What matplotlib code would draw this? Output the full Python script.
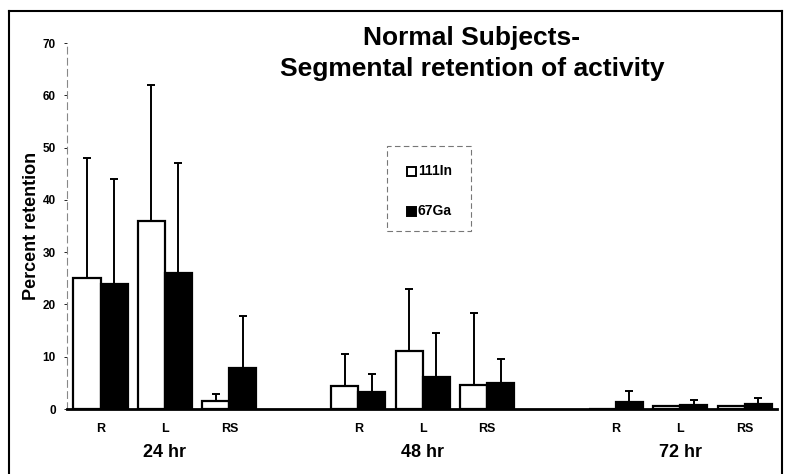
import matplotlib
matplotlib.use("Agg")
import matplotlib.pyplot as plt
from matplotlib.patches import Rectangle
from matplotlib.lines import Line2D
import numpy as np

plt.rcParams['font.family'] = ['Liberation Sans', 'DejaVu Sans']
plt.rcParams['font.weight'] = 'bold'

groups = ["24 hr", "48 hr", "72 hr"]
segments = ["R", "L", "RS"]
in111 = [25, 36, 1.6, 4.4, 11, 4.5, 0, 0.5, 0.5]
in111_err = [23, 26, 1.3, 6.2, 12, 13.9, 0, 0, 0]
ga67 = [24, 26, 7.9, 3.3, 6.2, 4.9, 1.4, 0.7, 0.9]
ga67_err = [20, 21, 9.8, 3.4, 8.4, 4.7, 2.1, 1.0, 1.2]

pos = []
for g in range(len(groups)):
    for s in range(len(segments)):
        pos.append(g * 4 + s)
pos = np.array(pos, dtype=float)

fig = plt.figure(figsize=(7.85, 4.74), dpi=100)
ax = fig.add_axes([67/785, 1-409/474, (777-67)/785, (409-43)/474])

w = 0.42
ax.bar(pos - w/2, in111, width=w, color='white', edgecolor='black', linewidth=1.6,
       yerr=[np.zeros(len(in111)), in111_err], error_kw=dict(ecolor='black', elinewidth=1.4, capsize=3, capthick=1.4))
ax.bar(pos + w/2, ga67, width=w, color='black', edgecolor='black', linewidth=1.6,
       yerr=[np.zeros(len(ga67)), ga67_err], error_kw=dict(ecolor='black', elinewidth=1.4, capsize=3, capthick=1.4))

ax.set_xlim(-0.52, 10.5)
ax.set_ylim(0, 70)
ax.set_yticks(range(0, 71, 10))
ax.tick_params(axis='y', labelsize=8.5, length=2, width=0.6, pad=6)
for lab in ax.get_yticklabels():
    lab.set_fontweight('bold')
ax.set_xticks(pos)
ax.set_xticklabels(segments * len(groups), fontsize=9, fontweight='bold')
ax.tick_params(axis='x', length=0, pad=10)

for side in ['top', 'right']:
    ax.spines[side].set_visible(False)
ax.spines['left'].set_linestyle((0, (6, 4)))
ax.spines['left'].set_color('#888888')
ax.spines['left'].set_linewidth(0.8)
ax.spines['bottom'].set_linewidth(2.0)

for g, name in enumerate(groups):
    ax.text(g * 4 + 1, -0.12, name, transform=ax.get_xaxis_transform(),
            ha='center', va='center', fontsize=13, fontweight='bold')

ax.set_ylabel("Percent retention", fontsize=13, fontweight='bold', labelpad=2)

fig.text(0.601, 1-45/474, "Normal Subjects-", ha='center', va='baseline', fontsize=19, fontweight='bold')
fig.text(0.601, 1-76/474, "Segmental retention of activity", ha='center', va='baseline', fontsize=19, fontweight='bold')

# legend box
lx0, ly0, lx1, ly1 = 387/785, 1-231/474, 471/785, 1-146/474
fig.patches.append(Rectangle((lx0, ly0), lx1-lx0, ly1-ly0, transform=fig.transFigure,
                             fill=False, edgecolor='#777777', linestyle=(0, (5, 3)), linewidth=0.8))
fig.patches.append(Rectangle((407/785, 1-176/474), 9/785, 9/474, transform=fig.transFigure,
                             facecolor='white', edgecolor='black', linewidth=1.4))
fig.patches.append(Rectangle((407/785, 1-216/474), 9/785, 9/474, transform=fig.transFigure,
                             facecolor='black', edgecolor='black', linewidth=1.4))
fig.text(418/785, 1-171/474, "111In", ha='left', va='center', fontsize=10, fontweight='bold')
fig.text(418/785, 1-211/474, "67Ga", ha='left', va='center', fontsize=10, fontweight='bold')

# outer frame
fig.add_artist(Line2D([9/785, 9/785], [0, 1-11/474], transform=fig.transFigure, color='black', linewidth=1.5))
fig.add_artist(Line2D([9/785, 782/785], [1-11/474, 1-11/474], transform=fig.transFigure, color='black', linewidth=1.5))
fig.add_artist(Line2D([782/785, 782/785], [0, 1-11/474], transform=fig.transFigure, color='black', linewidth=1.5))

fig.savefig("out.png", dpi=100)
